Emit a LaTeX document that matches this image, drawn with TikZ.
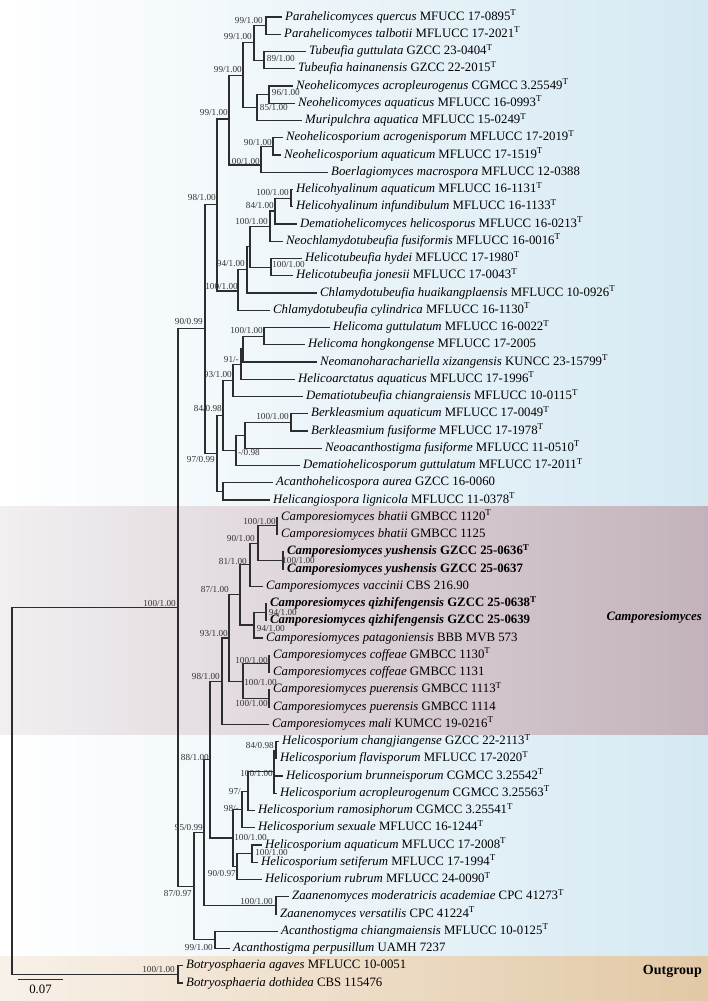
\documentclass[tikz,border=0pt]{standalone}
\usepackage{fontspec}
\setmainfont{Liberation Serif}
\definecolor{bluebg}{RGB}{213,233,243}
\definecolor{pinkL}{RGB}{242,239,241}
\definecolor{pinkR}{RGB}{195,178,187}
\definecolor{tanL}{RGB}{248,241,233}
\definecolor{tanR}{RGB}{226,200,165}
\definecolor{lineC}{RGB}{45,45,45}
\newcommand{\Ty}{\textsuperscript{T}}
\newcommand{\tx}[2]{\textit{#1} #2}
\newcommand{\tb}[2]{\textbf{\textit{#1} #2}}
\begin{document}
\begin{tikzpicture}[x=1pt,y=-1pt,
  br/.style={draw=lineC,line width=1.2pt},
  leaf/.style={anchor=west,inner xsep=3pt,inner ysep=0pt,font=\fontsize{12.8}{14}\selectfont,text height=9pt,text depth=3pt},
  lab/.style={anchor=east,inner sep=0pt,font=\fontsize{9.2}{10}\selectfont,text=black!80}]
\useasboundingbox (0,0) rectangle (708,1001);
% background bands
\shade[left color=white,right color=bluebg] (0,0) rectangle (708,506);
\shade[left color=pinkL,right color=pinkR] (0,506) rectangle (708,735);
\shade[left color=white,right color=bluebg] (0,735) rectangle (708,956);
\shade[left color=tanL,right color=tanR] (0,956) rectangle (708,1001);
% internal nodes
\coordinate (R) at (12,790.86);
\coordinate (ING) at (178,607.34);
\coordinate (OUT) at (178,974.375);
\coordinate (UP) at (205,328.51);
\coordinate (C) at (194,886.17);
\coordinate (U1) at (217,204.5);
\coordinate (U2) at (217,453.37);
\coordinate (N229) at (229,119);
\coordinate (N238) at (238,291);
\coordinate (N243) at (243,75.22);
\coordinate (N261) at (261,165);
\coordinate (N254) at (254,42.875);
\coordinate (N257) at (257,107.56);
\coordinate (N266) at (266,25.625);
\coordinate (N264) at (264,60.125);
\coordinate (N269) at (269,94.625);
\coordinate (N273) at (273,146.375);
\coordinate (N247) at (247,269.82);
\coordinate (N250) at (250,246.64);
\coordinate (N270) at (270,226.16);
\coordinate (N271) at (271,267.125);
\coordinate (N275) at (275,211.06);
\coordinate (N291) at (291,198.125);
\coordinate (N223a) at (223,415.37);
\coordinate (N223b) at (223,491.375);
\coordinate (N233) at (233,380.33);
\coordinate (N236) at (236,450.41);
\coordinate (N241) at (241,364.16);
\coordinate (N243b) at (243,349.06);
\coordinate (N264b) at (264,336.125);
\coordinate (N245) at (245,435.31);
\coordinate (N291b) at (291,422.375);
\coordinate (B) at (204,832.47);
\coordinate (N215) at (215,939.875);
\coordinate (A) at (210,759.56);
\coordinate (N276z) at (276,905.375);
\coordinate (N222) at (222,681.125);
\coordinate (H) at (233,837.99);
\coordinate (N229c) at (229,638.0);
\coordinate (N240) at (240,594.87);
\coordinate (N243c) at (243,681.125);
\coordinate (N250c) at (250,564.69);
\coordinate (N254c) at (254,625.06);
\coordinate (N258) at (258,543.125);
\coordinate (N277) at (277,525.875);
\coordinate (N283) at (283,560.375);
\coordinate (N266c) at (266,612.125);
\coordinate (N269c) at (269,663.875);
\coordinate (N269d) at (269,698.375);
\coordinate (G) at (242,809.42);
\coordinate (F) at (248,791.09);
\coordinate (D) at (274,771.69);
\coordinate (E) at (276,750.125);
\coordinate (K) at (237,866.56);
\coordinate (J) at (252,853.625);
% leaves
\node[leaf] (l1) at (282,17) {\tx{Parahelicomyces quercus}{MFUCC 17-0895\Ty}};
\node[leaf] (l2) at (281,34.25) {\tx{Parahelicomyces talbotii}{MFLUCC 17-2021\Ty}};
\node[leaf] (l3) at (306,51.5) {\tx{Tubeufia guttulata}{GZCC 23-0404\Ty}};
\node[leaf] (l4) at (295,68.75) {\tx{Tubeufia hainanensis}{GZCC 22-2015\Ty}};
\node[leaf] (l5) at (293,86) {\tx{Neohelicomyces acropleurogenus}{CGMCC 3.25549\Ty}};
\node[leaf] (l6) at (295,103.25) {\tx{Neohelicomyces aquaticus}{MFLUCC 16-0993\Ty}};
\node[leaf] (l7) at (302,120.5) {\tx{Muripulchra aquatica}{MFLUCC 15-0249\Ty}};
\node[leaf] (l8) at (283,137.75) {\tx{Neohelicosporium acrogenisporum}{MFLUCC 17-2019\Ty}};
\node[leaf] (l9) at (281,155) {\tx{Neohelicosporium aquaticum}{MFLUCC 17-1519\Ty}};
\node[leaf] (l10) at (328,172.25) {\tx{Boerlagiomyces macrospora}{MFLUCC 12-0388}};
\node[leaf] (l11) at (293,189.5) {\tx{Helicohyalinum aquaticum}{MFLUCC 16-1131\Ty}};
\node[leaf] (l12) at (293,206.75) {\tx{Helicohyalinum infundibulum}{MFLUCC 16-1133\Ty}};
\node[leaf] (l13) at (297,224) {\tx{Dematiohelicomyces helicosporus}{MFLUCC 16-0213\Ty}};
\node[leaf] (l14) at (283,241.25) {\tx{Neochlamydotubeufia fusiformis}{MFLUCC 16-0016\Ty}};
\node[leaf] (l15) at (302,258.5) {\tx{Helicotubeufia hydei}{MFLUCC 17-1980\Ty}};
\node[leaf] (l16) at (293,275.75) {\tx{Helicotubeufia jonesii}{MFLUCC 17-0043\Ty}};
\node[leaf] (l17) at (317,293) {\tx{Chlamydotubeufia huaikangplaensis}{MFLUCC 10-0926\Ty}};
\node[leaf] (l18) at (270,310.25) {\tx{Chlamydotubeufia cylindrica}{MFLUCC 16-1130\Ty}};
\node[leaf] (l19) at (330,327.5) {\tx{Helicoma guttulatum}{MFLUCC 16-0022\Ty}};
\node[leaf] (l20) at (305,344.75) {\tx{Helicoma hongkongense}{MFLUCC 17-2005}};
\node[leaf] (l21) at (317,362) {\tx{Neomanoharachariella xizangensis}{KUNCC 23-15799\Ty}};
\node[leaf] (l22) at (295,379.25) {\tx{Helicoarctatus aquaticus}{MFLUCC 17-1996\Ty}};
\node[leaf] (l23) at (303,396.5) {\tx{Dematiotubeufia chiangraiensis}{MFLUCC 10-0115\Ty}};
\node[leaf] (l24) at (308,413.75) {\tx{Berkleasmium aquaticum}{MFLUCC 17-0049\Ty}};
\node[leaf] (l25) at (308,431) {\tx{Berkleasmium fusiforme}{MFLUCC 17-1978\Ty}};
\node[leaf] (l26) at (322,448.25) {\tx{Neoacanthostigma fusiforme}{MFLUCC 11-0510\Ty}};
\node[leaf] (l27) at (300,465.5) {\tx{Dematiohelicosporum guttulatum}{MFLUCC 17-2011\Ty}};
\node[leaf] (l28) at (273,482.75) {\tx{Acanthohelicospora aurea}{GZCC 16-0060}};
\node[leaf] (l29) at (270,500) {\tx{Helicangiospora lignicola}{MFLUCC 11-0378\Ty}};
\node[leaf] (l30) at (278,517.25) {\tx{Camporesiomyces bhatii}{GMBCC 1120\Ty}};
\node[leaf] (l31) at (278,534.5) {\tx{Camporesiomyces bhatii}{GMBCC 1125}};
\node[leaf] (l32) at (284,551.75) {\tb{Camporesiomyces yushensis}{GZCC 25-0636\Ty}};
\node[leaf] (l33) at (284,569) {\tb{Camporesiomyces yushensis}{GZCC 25-0637}};
\node[leaf] (l34) at (263,586.25) {\tx{Camporesiomyces vaccinii}{CBS 216.90}};
\node[leaf] (l35) at (267,603.5) {\tb{Camporesiomyces qizhifengensis}{GZCC 25-0638\Ty}};
\node[leaf] (l36) at (267,620.75) {\tb{Camporesiomyces qizhifengensis}{GZCC 25-0639}};
\node[leaf] (l37) at (263,638) {\tx{Camporesiomyces patagoniensis}{BBB MVB 573}};
\node[leaf] (l38) at (270,655.25) {\tx{Camporesiomyces coffeae}{GMBCC 1130\Ty}};
\node[leaf] (l39) at (270,672.5) {\tx{Camporesiomyces coffeae}{GMBCC 1131}};
\node[leaf] (l40) at (270,689.75) {\tx{Camporesiomyces puerensis}{GMBCC 1113\Ty}};
\node[leaf] (l41) at (270,707) {\tx{Camporesiomyces puerensis}{GMBCC 1114}};
\node[leaf] (l42) at (269,724.25) {\tx{Camporesiomyces mali}{KUMCC 19-0216\Ty}};
\node[leaf] (l43) at (279,741.5) {\tx{Helicosporium changjiangense}{GZCC 22-2113\Ty}};
\node[leaf] (l44) at (277,758.75) {\tx{Helicosporium flavisporum}{MFLUCC 17-2020\Ty}};
\node[leaf] (l45) at (283,776) {\tx{Helicosporium brunneisporum}{CGMCC 3.25542\Ty}};
\node[leaf] (l46) at (277,793.25) {\tx{Helicosporium acropleurogenum}{CGMCC 3.25563\Ty}};
\node[leaf] (l47) at (255,810.5) {\tx{Helicosporium ramosiphorum}{CGMCC 3.25541\Ty}};
\node[leaf] (l48) at (255,827.75) {\tx{Helicosporium sexuale}{MFLUCC 16-1244\Ty}};
\node[leaf] (l49) at (262,845) {\tx{Helicosporium aquaticum}{MFLUCC 17-2008\Ty}};
\node[leaf] (l50) at (258,862.25) {\tx{Helicosporium setiferum}{MFLUCC 17-1994\Ty}};
\node[leaf] (l51) at (262,879.5) {\tx{Helicosporium rubrum}{MFLUCC 24-0090\Ty}};
\node[leaf] (l52) at (289,896.75) {\tx{Zaanenomyces moderatricis academiae}{CPC 41273\Ty}};
\node[leaf] (l53) at (277,914) {\tx{Zaanenomyces versatilis}{CPC 41224\Ty}};
\node[leaf] (l54) at (278,931.25) {\tx{Acanthostigma chiangmaiensis}{MFLUCC 10-0125\Ty}};
\node[leaf] (l55) at (230,948.5) {\tx{Acanthostigma perpusillum}{UAMH 7237}};
\node[leaf] (l56) at (183,965.75) {\tx{Botryosphaeria agaves}{MFLUCC 10-0051}};
\node[leaf] (l57) at (183,983) {\tx{Botryosphaeria dothidea}{CBS 115476}};
% branches
\foreach \p/\c in {R/ING,R/OUT,OUT/l56,OUT/l57,ING/UP,ING/C,UP/U1,UP/U2,
  U1/N229,U1/N238,N229/N243,N229/N261,N243/N254,N243/N257,N254/N266,N254/N264,
  N266/l1,N266/l2,N264/l3,N264/l4,N257/N269,N257/l7,N269/l5,N269/l6,
  N261/N273,N261/l10,N273/l8,N273/l9,N238/N247,N238/l18,N247/N250,N247/l17,
  N250/N270,N250/N271,N270/N275,N270/l14,N275/N291,N275/l13,N291/l11,N291/l12,
  N271/l15,N271/l16,U2/N223a,U2/N223b,N223a/N233,N223a/N236,N233/N241,N233/l23,
  N241/N243b,N241/l22,N243b/N264b,N243b/l21,N264b/l19,N264b/l20,
  N236/N245,N236/l27,N245/N291b,N245/l26,N291b/l24,N291b/l25,N223b/l28,N223b/l29,
  C/B,C/N215,N215/l54,N215/l55,B/A,B/N276z,N276z/l52,N276z/l53,A/N222,A/H,
  N222/N229c,N222/l42,N229c/N240,N229c/N243c,N240/N250c,N240/N254c,
  N250c/N258,N250c/l34,N258/N277,N258/N283,N277/l30,N277/l31,N283/l32,N283/l33,
  N254c/N266c,N254c/l37,N266c/l35,N266c/l36,N243c/N269c,N243c/N269d,
  N269c/l38,N269c/l39,N269d/l40,N269d/l41,H/G,H/K,G/F,G/l48,F/D,F/l47,
  D/E,D/l45,D/l46,E/l43,E/l44,K/J,K/l51,J/l49,J/l50}
  \draw[br] (\p) |- (\c);
% support values
\node[lab] (b1) at (263,21) {99/1.00};
\node[lab] (b2) at (252,37) {99/1.00};
\node[lab] (b3) at (295,59) {89/1.00};
\node[lab] (b4) at (242,70) {99/1.00};
\node[lab] (b5) at (300,93) {96/1.00};
\node[lab] (b6) at (288,108) {85/1.00};
\node[lab] (b7) at (228,113) {99/1.00};
\node[lab] (b8) at (272,143) {90/1.00};
\node[lab] (b9) at (260,162) {100/1.00};
\node[lab] (b10) at (216,198) {98/1.00};
\node[lab] (b11) at (289,193) {100/1.00};
\node[lab] (b12) at (274,206) {84/1.00};
\node[lab] (b13) at (268,222) {100/1.00};
\node[lab] (b14) at (245,264) {94/1.00};
\node[lab] (b15) at (305,265) {100/1.00};
\node[lab] (b16) at (238,287) {100/1.00};
\node[lab] (b17) at (203,322) {90/0.99};
\node[lab] (b18) at (263,331) {100/1.00};
\node[lab] (b19) at (239,359) {91/-};
\node[lab] (b20) at (232,375) {93/1.00};
\node[lab] (b21) at (222,409) {84/0.98};
\node[lab] (b22) at (289,417) {100/1.00};
\node[lab] (b23) at (260,453) {-/0.98};
\node[lab] (b24) at (215,460) {97/0.99};
\node[lab] (b25) at (176,603) {100/1.00};
\node[lab] (b26) at (276,521) {100/1.00};
\node[lab] (b27) at (255,538) {90/1.00};
\node[lab] (b28) at (315,560) {100/1.00};
\node[lab] (b29) at (247,561) {81/1.00};
\node[lab] (b30) at (229,589) {87/1.00};
\node[lab] (b31) at (297,612) {94/1.00};
\node[lab] (b32) at (285,628) {94/1.00};
\node[lab] (b33) at (228,633) {93/1.00};
\node[lab] (b34) at (268,660) {100/1.00};
\node[lab] (b35) at (220,676) {98/1.00};
\node[lab] (b36) at (277,682) {100/1.00};
\node[lab] (b37) at (268,703) {100/1.00};
\node[lab] (b38) at (274,745) {84/0.98};
\node[lab] (b39) at (209,757) {88/1.00};
\node[lab] (b40) at (273,773) {100/1.00};
\node[lab] (b41) at (244,791) {97/-};
\node[lab] (b42) at (239,808) {98/-};
\node[lab] (b43) at (203,827) {95/0.99};
\node[lab] (b44) at (267,837) {100/1.00};
\node[lab] (b45) at (288,852) {100/1.00};
\node[lab] (b46) at (236,873) {90/0.97};
\node[lab] (b47) at (192,893) {87/0.97};
\node[lab] (b48) at (273,901) {100/1.00};
\node[lab] (b49) at (213,947) {99/1.00};
\node[lab] (b50) at (175,969) {100/1.00};
% clade labels
\node[anchor=east,inner sep=0pt,font=\fontsize{12.8}{14}\selectfont\bfseries\itshape] (cl1) at (702,617) {Camporesiomyces};
\node[anchor=east,inner sep=0pt,font=\fontsize{14}{16}\selectfont\bfseries] (cl2) at (702,971) {Outgroup};
% scale bar
\coordinate (sb1) at (18,979);
\coordinate (sb2) at (63,979);
\draw[br,line width=1pt] (sb1) -- (sb2);
\node[inner sep=0pt,font=\fontsize{12.8}{14}\selectfont] (sbt) at (40.5,989) {0.07};
\end{tikzpicture}
\end{document}
